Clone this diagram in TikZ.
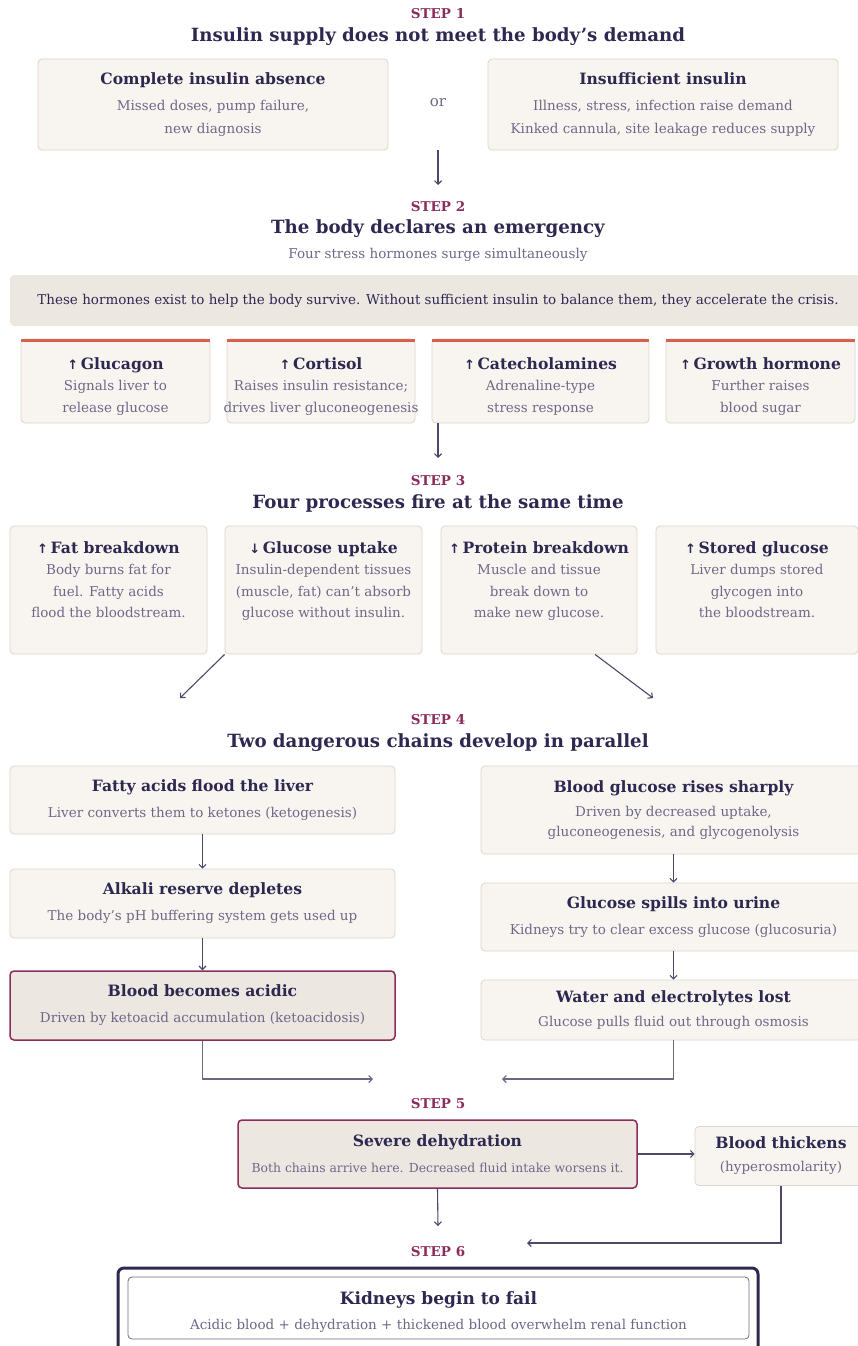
\documentclass[tikz,border=0pt]{standalone}
\usepackage{fontspec}
\setmainfont{DejaVu Serif}
\newfontfamily\symfont{DejaVu Sans}
\usetikzlibrary{positioning}
\usetikzlibrary{calc}
\usetikzlibrary{arrows.meta}
\definecolor{ink}{HTML}{2D2850}
\definecolor{plum}{HTML}{8B2C5C}
\definecolor{mute}{HTML}{6E6888}
\definecolor{cardfill}{HTML}{F8F5F0}
\definecolor{cardline}{HTML}{DCD5CA}
\definecolor{shade}{HTML}{ECE7E1}
\definecolor{coral}{HTML}{D9604C}
\newcommand{\cardhead}[1]{{\color{ink}\fontsize{15.6}{18}\selectfont\bfseries #1}}
\newcommand{\up}{{\symfont\fontsize{13}{15}\selectfont ↑}}
\newcommand{\down}{{\symfont\fontsize{13}{15}\selectfont ↓}}
\tikzset{
  steplabel/.style={text=plum,font=\fontsize{13.5}{16}\selectfont\bfseries},
  steptitle/.style={text=ink,font=\fontsize{18.2}{22}\selectfont\bfseries},
  subtitle/.style={text=mute,font=\fontsize{13.5}{16}\selectfont},
  card/.style={draw=cardline,fill=cardfill,rounded corners=4pt,line width=0.8pt,
    align=center,text=mute,font=\fontsize{13.5}{23}\selectfont,inner sep=0pt},
  cardtext/.style={align=center,text=mute,font=\fontsize{13.5}{21.5}\selectfont,inner sep=0pt,anchor=north},
  alert/.style={card,draw=plum,fill=shade,line width=1.5pt},
  flow/.style={draw=ink!85,line width=1.1pt,-{Straight Barb[length=3.5pt,width=7pt]}}
}
\begin{document}
\begin{tikzpicture}[x=1pt,y=-1pt]
\useasboundingbox (0,0) rectangle (858,1346);

% step 1
\node[steplabel] (s1) at (438,14) {STEP 1};
\node[steptitle] (t1) at (438,37) {Insulin supply does not meet the body's demand};
\node[card,minimum width=350,minimum height=91] (absent) at (213,104.5)
  {\cardhead{Complete insulin absence}\\[3pt] Missed doses, pump failure,\\ new diagnosis};
\node[subtitle,font=\fontsize{15}{18}\selectfont] (or) at (438,103) {or};
\node[card,minimum width=350,minimum height=91] (short) at (663,104.5)
  {\cardhead{Insufficient insulin}\\[3pt] Illness, stress, infection raise demand\\ Kinked cannula, site leakage reduces supply};
\coordinate (a1) at (438,185);
\draw[flow] (absent.south -| or) -- (a1);

% step 2
\node[steplabel] (s2) at (438,207) {STEP 2};
\node[steptitle] (t2) at (438,229) {The body declares an emergency};
\node[subtitle] (sub2) at (438,255) {Four stress hormones surge simultaneously};
\node[card,draw=none,fill=shade,minimum width=856,minimum height=51,text=ink] (banner) at (438,300.5)
  {These hormones exist to help the body survive. Without sufficient insulin to balance them, they accelerate the crisis.};

\node[card,minimum width=189,minimum height=84] (glc) at (115.5,381) {};
\node[card,minimum width=188,minimum height=84] (cor) at (321,381) {};
\node[card,minimum width=217,minimum height=84] (cat) at (540.5,381) {};
\node[card,minimum width=189,minimum height=84] (gro) at (760.5,381) {};
\foreach \h in {glc,cor,cat,gro}
  \draw[coral,line width=3pt] ([yshift=-1.5]\h.north west) -- ([yshift=-1.5]\h.north east);
\node[cardtext] (glcT) at (115.5,357) {\cardhead{\up\,Glucagon}\\ Signals liver to\\ release glucose};
\node[cardtext] (corT) at (321,357) {\cardhead{\up\,Cortisol}\\ Raises insulin resistance;\\ drives liver gluconeogenesis};
\node[cardtext] (catT) at (540.5,357) {\cardhead{\up\,Catecholamines}\\ Adrenaline-type\\ stress response};
\node[cardtext] (groT) at (760.5,357) {\cardhead{\up\,Growth hormone}\\ Further raises\\ blood sugar};
\coordinate (a2) at (438,458);
\draw[flow] (cat.south west -| a2) -- (a2);

% step 3
\node[steplabel] (s3) at (438,481) {STEP 3};
\node[steptitle] (t3) at (438,503) {Four processes fire at the same time};
\node[card,minimum width=197,minimum height=128] (fat) at (108.5,590) {};
\node[card,minimum width=197,minimum height=128] (upt) at (323.5,590) {};
\node[card,minimum width=196,minimum height=128] (pro) at (539,590) {};
\node[card,minimum width=202,minimum height=128] (sto) at (757,590) {};
\node[cardtext] (fatT) at (108.5,541) {\cardhead{\up\,Fat breakdown}\\ Body burns fat for\\ fuel. Fatty acids\\ flood the bloodstream.};
\node[cardtext] (uptT) at (323.5,541) {\cardhead{\down\,Glucose uptake}\\ Insulin-dependent tissues\\ (muscle, fat) can't absorb\\ glucose without insulin.};
\node[cardtext] (proT) at (539,541) {\cardhead{\up\,Protein breakdown}\\ Muscle and tissue\\ break down to\\ make new glucose.};
\node[cardtext] (stoT) at (757,541) {\cardhead{\up\,Stored glucose}\\ Liver dumps stored\\ glycogen into\\ the bloodstream.};
\coordinate (dl) at (180,698);
\coordinate (dr) at (653,698);
\draw[flow] (upt.south west) -- (dl);
\draw[flow] ($(pro.south)+(56,0)$) -- (dr);

% step 4
\node[steplabel] (s4) at (438,720) {STEP 4};
\node[steptitle] (t4) at (438,743) {Two dangerous chains develop in parallel};
\node[card,minimum width=385,minimum height=68] (liver) at (202.5,800)
  {\cardhead{Fatty acids flood the liver}\\[3pt] Liver converts them to ketones (ketogenesis)};
\node[card,minimum width=385,minimum height=69] (alk) at (202.5,903.5)
  {\cardhead{Alkali reserve depletes}\\[3pt] The body's pH buffering system gets used up};
\node[alert,minimum width=385,minimum height=69] (acid) at (202.5,1005.5)
  {\cardhead{Blood becomes acidic}\\[3pt] Driven by ketoacid accumulation (ketoacidosis)};
\node[card,minimum width=385,minimum height=88] (rise) at (673.5,810)
  {\cardhead{Blood glucose rises sharply}\\[1pt] Driven by decreased uptake,\\[-3pt] gluconeogenesis, and glycogenolysis};
\node[card,minimum width=385,minimum height=68] (spill) at (673.5,917)
  {\cardhead{Glucose spills into urine}\\[3pt] Kidneys try to clear excess glucose (glucosuria)};
\node[card,minimum width=385,minimum height=60] (water) at (673.5,1010)
  {\cardhead{Water and electrolytes lost}\\[1pt] Glucose pulls fluid out through osmosis};
\draw[flow] (liver) -- (alk);
\draw[flow] (alk) -- (acid);
\draw[flow] (rise) -- (spill);
\draw[flow] (spill) -- (water);
\coordinate (m1) at (373,1079);
\coordinate (m2) at (502,1079);
\draw[flow,draw=ink!70] (acid.south) |- (m1);
\draw[flow,draw=ink!70] (water.south) |- (m2);

% step 5
\node[steplabel] (s5) at (438,1104) {STEP 5};
\node[alert,minimum width=399,minimum height=68] (dehyd) at (437.5,1154)
  {\cardhead{Severe dehydration}\\[3pt] {\fontsize{12.4}{15}\selectfont Both chains arrive here. Decreased fluid intake worsens it.}};
\node[card,minimum width=172,minimum height=59] (thick) at (781,1156)
  {\cardhead{Blood thickens}\\[0pt] (hyperosmolarity)};
\draw[flow] (dehyd.east) -- (dehyd.east -| thick.west);
\coordinate (a5) at (438,1226);
\coordinate (a6) at (527,1243);
\draw[flow] (dehyd.south) -- (a5);
\draw[flow] (thick.south) |- (a6);

% step 6
\node[steplabel] (s6) at (438,1252) {STEP 6};
\node[draw=ink,line width=3pt,rounded corners=6pt,minimum width=640,minimum height=86] (kidout) at (438,1311) {};
\node[card,draw=ink!70,fill=white,line width=0.8pt,minimum width=621,minimum height=62] (kid) at (438.5,1308)
  {};
\node[align=center,text=mute,font=\fontsize{13.5}{25}\selectfont,inner sep=0pt] (kidT) at (438.5,1312)
  {{\color{ink}\fontsize{17}{20}\selectfont\bfseries Kidneys begin to fail}\\ Acidic blood + dehydration + thickened blood overwhelm renal function};
\end{tikzpicture}
\end{document}
